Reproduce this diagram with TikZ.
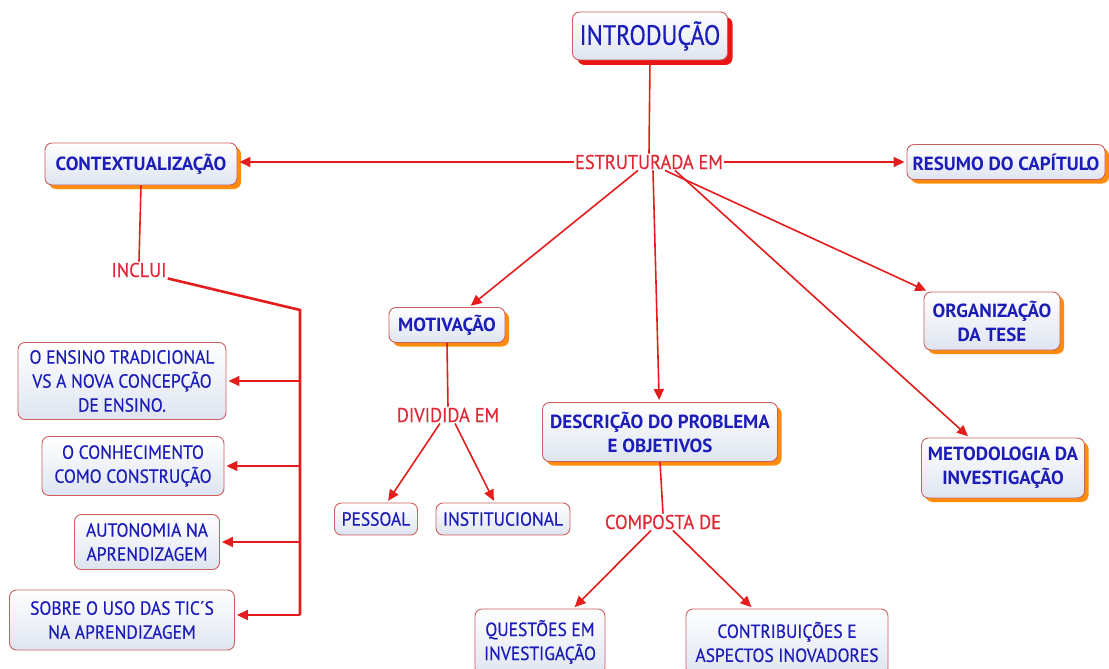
\documentclass[tikz,border=0pt]{standalone}
\usepackage{fontspec}
\setmainfont{PT Sans}
\newfontfamily\narrowfont[FakeStretch=0.86,FakeBold=0.4]{PT Sans}
\newfontfamily\medfont[FakeStretch=0.92,FakeBold=0.4]{PT Sans}
\usetikzlibrary{arrows.meta,shadows}

\definecolor{txtblue}{RGB}{28,28,185}
\definecolor{lblred}{RGB}{222,40,52}
\definecolor{linered}{RGB}{228,28,28}
\definecolor{boxborder}{RGB}{205,95,95}
\definecolor{boxbottom}{RGB}{222,228,240}
\definecolor{shadoworange}{RGB}{255,140,10}
\definecolor{shadowred}{RGB}{235,20,20}

\tikzset{
  box/.style={draw=boxborder, line width=0.9pt, rounded corners=7pt,
    top color=white, bottom color=boxbottom, text=txtblue, align=center,
    inner sep=2pt, font=\medfont\fontsize{19}{24}\selectfont},
  mainbox/.style={box, font=\bfseries\fontsize{19}{24}\selectfont,
    general shadow={fill=shadoworange, shadow xshift=4pt, shadow yshift=-4pt}},
  rootbox/.style={box, font=\narrowfont\fontsize{28}{30}\selectfont,
    general shadow={fill=shadowred, shadow xshift=5pt, shadow yshift=-5pt}},
  leafbox/.style={box},
  lbl/.style={text=lblred, font=\medfont\fontsize{20}{22}\selectfont, inner sep=1pt},
  link/.style={draw=linered, line width=1.6pt},
  arr/.style={link, -{Triangle[length=11pt,width=10pt]}, shorten >=2pt},
  bracket/.style={draw=linered, line width=2.6pt, line join=miter}
}

\begin{document}
\begin{tikzpicture}[x=1pt,y=-1pt]
\useasboundingbox (0,0) rectangle (1109,669);

% main concept and its linking phrase
\node[rootbox, minimum width=155pt, minimum height=48pt] (intro) at (650,36) {INTRODUÇÃO};
\node[lbl] (estr) at (649,162) {ESTRUTURADA EM};

% first-level topics
\node[mainbox, minimum width=192pt, minimum height=42pt] (context) at (141,164) {CONTEXTUALIZAÇÃO};
\node[mainbox, minimum width=198pt, minimum height=35pt] (resumo) at (1006,162) {RESUMO DO CAPÍTULO};
\node[mainbox, minimum width=116pt, minimum height=35pt] (motiv) at (447,325) {MOTIVAÇÃO};
\node[mainbox, minimum width=235pt, minimum height=59pt] (desc) at (660,432) {DESCRIÇÃO DO PROBLEMA\\E OBJETIVOS};
\node[mainbox, minimum width=136pt, minimum height=58pt] (org) at (992,321) {ORGANIZAÇÃO\\DA TESE};
\node[mainbox, minimum width=163pt, minimum height=60pt] (metod) at (1003,468) {METODOLOGIA DA\\INVESTIGAÇÃO};

% linking phrases
\node[lbl] (inclui) at (139,270) {INCLUI};
\node[lbl] (divid) at (448,415) {DIVIDIDA EM};
\node[lbl] (comp) at (663,522) {COMPOSTA DE};

% second-level topics
\node[leafbox, minimum width=208pt, minimum height=77pt] (ensino) at (122,381) {O ENSINO TRADICIONAL\\VS A NOVA CONCEPÇÃO\\DE ENSINO.};
\node[leafbox, minimum width=182pt, minimum height=59pt] (conhec) at (133,466) {O CONHECIMENTO\\COMO CONSTRUÇÃO};
\node[leafbox, minimum width=145pt, minimum height=55pt] (auton) at (147,542) {AUTONOMIA NA\\APRENDIZAGEM};
\node[leafbox, minimum width=225pt, minimum height=60pt] (sobre) at (122,620) {SOBRE O USO DAS TIC´S\\NA APRENDIZAGEM};
\node[leafbox, minimum width=83pt, minimum height=32pt] (pessoal) at (376,519) {PESSOAL};
\node[leafbox, minimum width=134pt, minimum height=32pt] (instit) at (503,519) {INSTITUCIONAL};
\node[leafbox, minimum width=130pt, minimum height=66pt] (quest) at (540,642) {QUESTÕES EM\\INVESTIGAÇÃO};
\node[leafbox, minimum width=202pt, minimum height=66pt] (contrib) at (787,642) {CONTRIBUIÇÕES E\\ASPECTOS INOVADORES};

% plain links into linking phrases
\draw[link] (intro.south) -- (estr.north);
\draw[link] (context.south) -- (inclui.north);
\draw[link] (motiv.south) -- (divid.north);
\draw[link] (desc.south) -- (comp.north);

% arrows out of ESTRUTURADA EM
\draw[arr] (estr.west) -- (estr.west -| context.east);
\draw[arr] (estr.east) -- (estr.east -| resumo.west);
\draw[arr] ([xshift=-11pt]estr.south) -- (motiv);
\draw[arr] ([xshift=4pt]estr.south) -- (desc);
\draw[arr] ([xshift=16pt]estr.south) -- (org);
\draw[arr] ([xshift=26pt]estr.south) -- (metod);

% bracket from INCLUI
\coordinate (bend) at (300,310);
\coordinate (bbot) at (300,615);
\draw[bracket] (inclui.south east) -- (bend) -- (bbot);
\draw[arr] (bend |- ensino.east) -- (ensino.east);
\draw[arr] (bend |- conhec.east) -- (conhec.east);
\draw[arr] (bend |- auton.east) -- (auton.east);
\draw[arr] (bbot) -- (bbot -| sobre.east);

% arrows out of the other linking phrases
\draw[arr] ([xshift=-8pt]divid.south) -- (pessoal);
\draw[arr] ([xshift=7pt]divid.south) -- (instit);
\draw[arr] ([xshift=-12pt]comp.south) -- (quest);
\draw[arr] ([xshift=10pt]comp.south) -- (contrib);
\end{tikzpicture}
\end{document}
